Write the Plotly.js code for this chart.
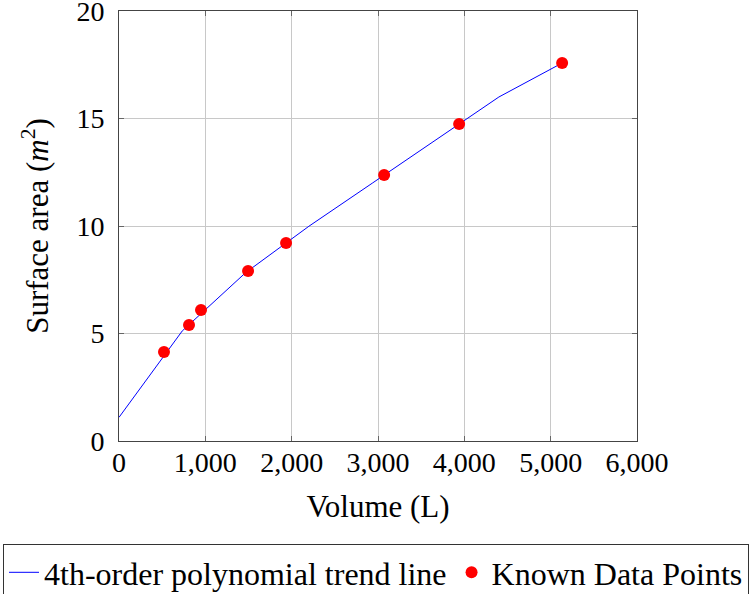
<!DOCTYPE html>
<html>
<head>
<meta charset="utf-8">
<script src="https://cdn.plot.ly/plotly-3.0.1.min.js"></script>
<style>html,body{margin:0;padding:0;background:#fff;}#chart{width:750px;height:594px;}</style>
</head>
<body>
<div id="chart"></div>
<script>
// Trend line samples
const trendX = [0, 733, 1467, 2200, 2933, 3667, 4400, 5133];
const trendY = [1.1, 5.12, 7.83, 9.99, 11.99, 14.0, 16.0, 17.58];
// Known data points
const pointsX = [521, 811, 950, 1495, 1935, 3071, 3940, 5133];
const pointsY = [4.14, 5.40, 6.09, 7.91, 9.21, 12.37, 14.74, 17.58];
// Tick values
const xTicks = [0, 1000, 2000, 3000, 4000, 5000, 6000];
const yTicks = [0, 5, 10, 15, 20];

const font = "Liberation Serif";
const W = 750, H = 594;

const data = [
  {x: trendX, y: trendY, mode: 'lines', type: 'scatter',
   name: '4th-order polynomial trend line',
   line: {color: '#0000ff', width: 1}},
  {x: pointsX, y: pointsY, mode: 'markers', type: 'scatter',
   name: 'Known Data Points',
   marker: {color: '#ff0000', size: 12}}
];

const layout = {
  width: W, height: H,
  margin: {l: 0, r: 0, t: 0, b: 0, autoexpand: false},
  paper_bgcolor: '#fff', plot_bgcolor: '#fff',
  font: {family: font, size: 28, color: '#000'},
  showlegend: true,
  legend: {
    orientation: 'h', x: 3 / W, xanchor: 'left', y: 50 / H, yanchor: 'top',
    bordercolor: '#333', borderwidth: 1, bgcolor: '#fff',
    font: {family: font, size: 32, color: '#000'}, itemwidth: 30, tracegroupgap: 0
  },
  xaxis: {
    domain: [119 / W, 637 / W],
    range: [0, 6000], tickvals: xTicks,
    tickformat: ',d', showgrid: true, gridcolor: '#c8c8c8', gridwidth: 1,
    showline: true, linecolor: '#444', linewidth: 1, mirror: 'ticks',
    ticks: 'inside', ticklen: 5, tickcolor: '#666', zeroline: false,
    tickfont: {family: font, size: 28, color: '#000'},
    ticklabeloverflow: 'allow', automargin: false, ticklabelstandoff: -4,
    title: {text: 'Volume (L)', font: {family: font, size: 31, color: '#000'}, standoff: 18},
    fixedrange: true
  },
  yaxis: {
    domain: [(H - 441) / H, (H - 11) / H],
    range: [0, 20], tickvals: yTicks,
    showgrid: true, gridcolor: '#c8c8c8', gridwidth: 1,
    showline: true, linecolor: '#444', linewidth: 1, mirror: 'ticks',
    ticks: 'inside', ticklen: 5, tickcolor: '#666', zeroline: false,
    tickfont: {family: font, size: 28, color: '#000'},
    ticklabeloverflow: 'allow', automargin: false, ticklabelstandoff: 8,
    title: {text: 'Surface area (<i>m</i><sup>2</sup>)', font: {family: font, size: 31, color: '#000'}, standoff: 18},
    fixedrange: true
  }
};

Plotly.newPlot('chart', data, layout, {displayModeBar: false, staticPlot: true});
</script>
</body>
</html>
